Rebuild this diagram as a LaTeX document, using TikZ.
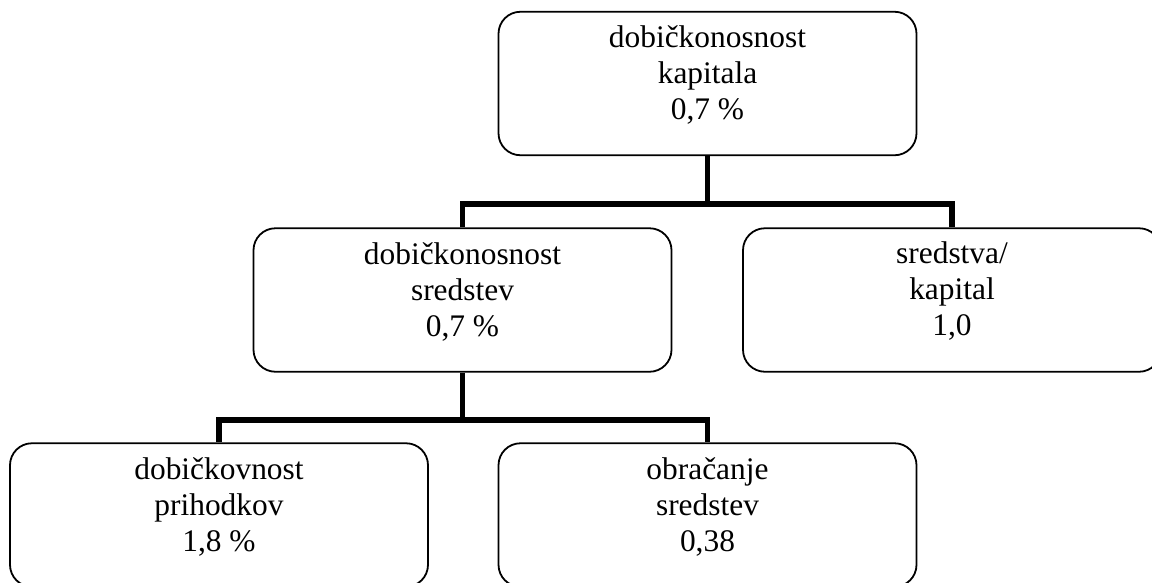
\documentclass[tikz,border=0pt]{standalone}
\usepackage{fontspec}
\setmainfont{Liberation Serif}
\begin{document}
\begin{tikzpicture}[x=1pt,y=-1pt,
  box/.style={draw, line width=1.8pt, rounded corners=22pt, fill=white,
    minimum width=418pt, minimum height=143.5pt, inner sep=0pt},
  txt/.style={align=center, font=\fontsize{31.4}{36}\selectfont, inner sep=0pt},
  conn/.style={line width=5.5pt}]
\path[use as bounding box] (0,0) rectangle (1152,582);
\clip (0,0) rectangle (1152,582);
% boxes
\node[box] (top) at (707.5,83.5) {};
\node[box] (ml) at (462.5,300) {};
\node[box] (mr) at (952,300) {};
\node[box] (bl) at (219,515) {};
\node[box] (br) at (707.5,515) {};
% texts
\node[txt] (topt) at ([yshift=8.5pt]top.center) {dobičkonosnost\\kapitala\\0,7 \%};
\node[txt] (mlt) at ([yshift=8.5pt]ml.center) {dobičkonosnost\\sredstev\\0,7 \%};
\node[txt] (mrt) at ([yshift=8.5pt]mr.center) {sredstva/\\kapital\\1,0};
\node[txt] (blt) at ([yshift=8.5pt]bl.center) {dobičkovnost\\prihodkov\\1,8 \%};
\node[txt] (brt) at ([yshift=8.5pt]br.center) {obračanje\\sredstev\\0,38};
% connectors
\coordinate (j1) at (707.5,204);
\coordinate (j2) at (462.5,420);
\draw[conn] (top.south) -- (j1);
\draw[conn] (ml.north) -- (ml.north |- j1) -- (mr.north |- j1) -- (mr.north);
\draw[conn] (ml.south) -- (j2);
\draw[conn] (bl.north) -- (bl.north |- j2) -- (br.north |- j2) -- (br.north);
\end{tikzpicture}
\end{document}
